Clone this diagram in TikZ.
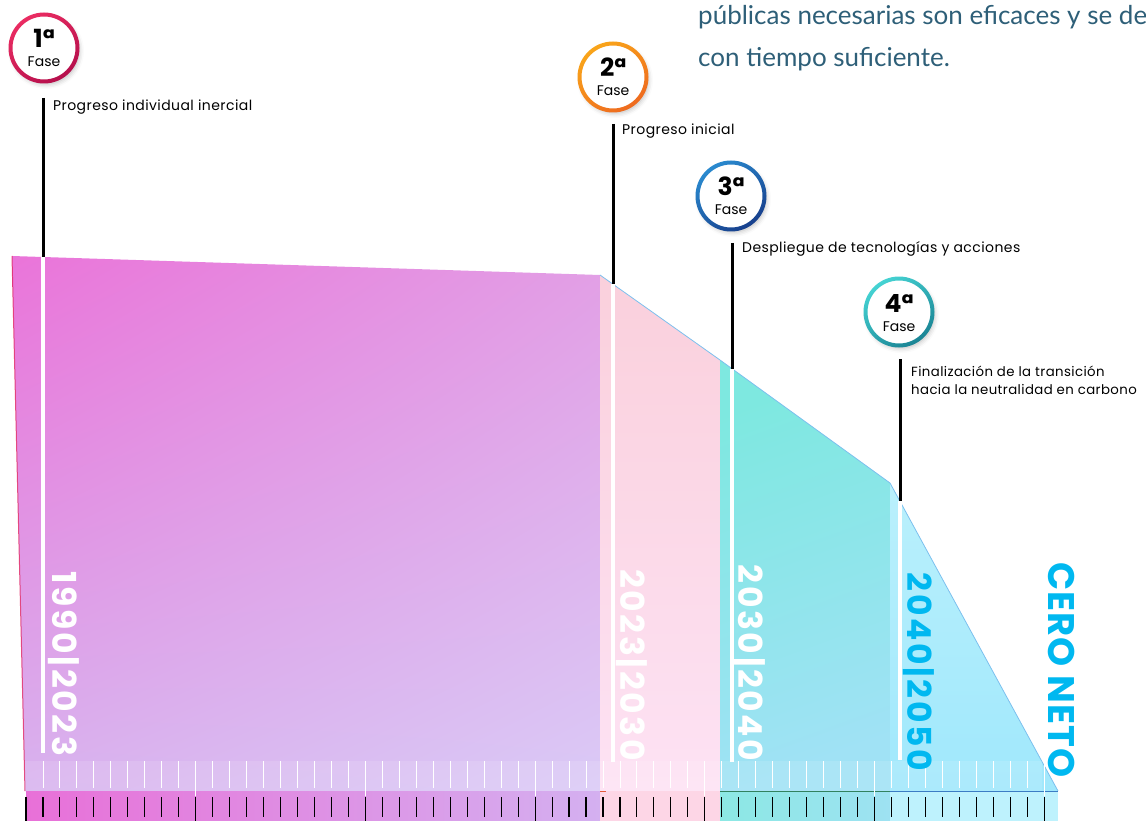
\documentclass[tikz,border=0pt]{standalone}
\usepackage{fontspec}
\setmainfont{Poppins}
\newfontfamily\latofont{Lato}
\newfontfamily\yearfont{Poppins}[LetterSpace=8]
\newfontfamily\netofont{Poppins}[LetterSpace=3]
\newfontfamily\lblfont{Poppins}[LetterSpace=3]
\usetikzlibrary{shadings,shadows.blur}

\definecolor{introblue}{HTML}{2E5F78}
\definecolor{neto}{HTML}{00B8F0}
\definecolor{ringAa}{HTML}{EA2C62}\definecolor{ringAb}{HTML}{B50F4C}
\definecolor{ringBa}{HTML}{F9A51A}\definecolor{ringBb}{HTML}{EE6A1F}
\definecolor{ringCa}{HTML}{2A8ACF}\definecolor{ringCb}{HTML}{173F8C}
\definecolor{ringDa}{HTML}{45D3D3}\definecolor{ringDb}{HTML}{1A8494}
\definecolor{purUL}{HTML}{EA74D9}\definecolor{purUR}{HTML}{E29EE5}
\definecolor{purLL}{HTML}{D8B2EE}\definecolor{purLR}{HTML}{DACAF6}
\definecolor{pinkT}{HTML}{FAD0DC}\definecolor{pinkB}{HTML}{FDE2F4}
\definecolor{tealT}{HTML}{7EE8E0}\definecolor{tealB}{HTML}{A0E2F5}
\definecolor{cyanT}{HTML}{BAF0FC}\definecolor{cyanB}{HTML}{A0E8FC}
\definecolor{slope}{HTML}{7CC0EE}
\definecolor{leftedge}{HTML}{E02864}
\definecolor{stripA}{HTML}{E870D8}\definecolor{stripB}{HTML}{D4B0F0}
\definecolor{stripPink}{HTML}{FDD6E6}
\definecolor{stripTa}{HTML}{8CE8E4}\definecolor{stripTb}{HTML}{9EE2F2}
\definecolor{stripCyan}{HTML}{BEF2FD}
\definecolor{lineOr}{HTML}{E65A3C}\definecolor{lineGr}{HTML}{32825F}\definecolor{lineBl}{HTML}{3C7CC4}

\tikzset{
  fasebox/.style={circle, fill=white, minimum size=66pt, inner sep=0pt,
    blur shadow={shadow xshift=2pt, shadow yshift=-3pt, shadow blur radius=5pt, shadow opacity=28}},
  numtxt/.style={anchor=base, inner sep=0pt, font=\fontsize{25}{25}\selectfont\bfseries},
  fasetxt/.style={anchor=base, inner sep=0pt, font=\fontsize{14}{14}\selectfont},
  phaselbl/.style={anchor=base west, inner sep=0pt, align=left, font=\lblfont\fontsize{14}{18}\selectfont},
  yearlbl/.style={rotate=-90, anchor=base, inner sep=0pt, text=white, font=\yearfont\fontsize{33}{33}\selectfont\bfseries},
  marker/.style={line width=3pt, black},
  whiteline/.style={line width=3.5pt, white},
  wtick/.style={line width=0.9pt, white},
  btick/.style={line width=1.1pt, black},
  intro/.style={anchor=base west, inner sep=0pt, text=introblue, font=\latofont\fontsize{26}{26}\selectfont}
}

\begin{document}
\begin{tikzpicture}[x=1pt,y=-1pt]
  \useasboundingbox (0,0) rectangle (1146,821);

  % bands
  \shade[upper left=purUL, upper right=purUR, lower left=purLL, lower right=purLR]
    (12,256) -- (600,275) -- (600,791) -- (25,791) -- cycle;
  \shade[top color=pinkT, bottom color=pinkB]
    (600,275) -- (720,360) -- (720,791) -- (600,791) -- cycle;
  \shade[top color=tealT, bottom color=tealB, shading angle=20]
    (720,360) -- (890,483) -- (890,791) -- (720,791) -- cycle;
  \shade[top color=cyanT, bottom color=cyanB]
    (890,483) -- (1058,791) -- (890,791) -- cycle;
  \draw[line width=0.8pt, slope] (600,275) -- (720,360) -- (890,483) -- (1058,791);
  \draw[line width=1pt, leftedge, opacity=0.8] (12,256) -- (25,791);
  \fill[white, opacity=0.12] (25,761) rectangle (1042,791);

  % bottom strip
  \shade[left color=stripA, right color=stripB] (26,791) rectangle (600,821);
  \fill[stripPink] (600,791) rectangle (720,821);
  \shade[left color=stripTa, right color=stripTb] (720,791) rectangle (890,821);
  \fill[stripCyan] (890,791) rectangle (1058,821);
  \draw[line width=0.8pt, lineOr] (600,791) -- (606,791);
  \draw[line width=0.8pt, lineGr] (720,791) -- (890,791);
  \draw[line width=0.8pt, lineBl] (890,791) -- (1058,791);

  \foreach \k in {1,...,60} {
      \draw[wtick] (26+16.97*\k,761) -- (26+16.97*\k,788);
    }
  \foreach \k in {10,20,...,60} {
      \draw[wtick] (26+16.97*\k,761) -- (26+16.97*\k,796);
    }
  \foreach \k in {0,...,60} {
      \draw[btick] (26+16.97*\k,797) -- (26+16.97*\k,817);
    }
  \foreach \k in {0,10,...,60} {
      \draw[btick] (26+16.97*\k,797) -- (26+16.97*\k,821);
    }

  % phase markers
  \coordinate (top1) at (43,98);   \coordinate (edge1) at (43,257);  \coordinate (end1) at (43,753);
  \coordinate (top2) at (613,124); \coordinate (edge2) at (613,284); \coordinate (end2) at (613,762);
  \coordinate (top3) at (732,243); \coordinate (edge3) at (732,369); \coordinate (end3) at (732,762);
  \coordinate (top4) at (900,359); \coordinate (edge4) at (900,501); \coordinate (end4) at (900,760);
  \foreach \i in {1,2,3,4} {
      \draw[marker] (top\i) -- (edge\i);
      \draw[whiteline] (edge\i) -- (end\i);
    }

  \node[phaselbl] (lbl1) at (53,111) {Progreso individual inercial};
  \node[phaselbl] (lbl2) at (622,135) {Progreso inicial};
  \node[phaselbl] (lbl3) at (742,252) {Despliegue de tecnologías y acciones};
  \node[phaselbl, font=\lblfont\fontsize{13.3}{18}\selectfont] (lbl4) at (911,394)
    {Finalización de la transición\\hacia la neutralidad en carbono};

  % phase badges
  \foreach \n/\x/\y/\ca/\cb in {1/44/48/ringAa/ringAb, 2/613/77/ringBa/ringBb,
                                3/731/196/ringCa/ringCb, 4/899/312/ringDa/ringDb} {
      \node[fasebox] (f\n) at (\x,\y) {};
      \shade[even odd rule, top color=\ca, bottom color=\cb, shading angle=35]
        (f\n.center) circle (35.5) (f\n.center) circle (31.5);
      \node[numtxt] (num\n) at (\x,\y) {{\n}ª};
      \node[fasetxt] (fase\n) at (\x,\y+19) {Fase};
    }

  % year labels
  \node[yearlbl] (y1) at (52,664) {1990|2023};
  \node[yearlbl] (y2) at (620,665) {2023|2030};
  \node[yearlbl] (y3) at (738,663) {2030|2040};
  \node[yearlbl, text=neto] (y4) at (907,672) {2040|2050};
  \node[yearlbl, text=neto, font=\netofont\fontsize{37}{37}\selectfont\bfseries] (neto) at (1048,670) {CERO NETO};

  % intro text
  \node[intro] (intro1) at (698,25) {públicas necesarias son eficaces y se de};
  \node[intro] (intro2) at (698,67) {con tiempo suficiente.};
\end{tikzpicture}
\end{document}
